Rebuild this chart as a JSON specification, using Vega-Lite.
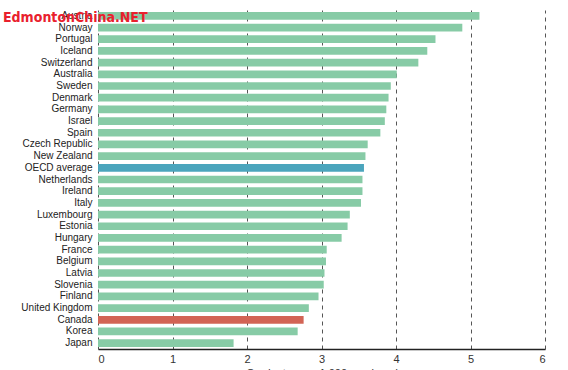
{
  "$schema": "https://vega.github.io/schema/vega-lite/v6.json",
  "width": 447,
  "height": 339,
  "padding": {"left": 3, "top": 10, "right": 15, "bottom": 0},
  "background": "white",
  "title": {
    "text": "EdmontonChina.NET",
    "anchor": "start",
    "frame": "group",
    "offset": -15,
    "dx": -95,
    "font": "DejaVu Sans Condensed",
    "fontSize": 14,
    "fontWeight": "bold",
    "color": "#E9202D"
  },
  "data": {
    "values": [
      {"country": "Austria", "value": 5.12, "group": "country"},
      {"country": "Norway", "value": 4.89, "group": "country"},
      {"country": "Portugal", "value": 4.53, "group": "country"},
      {"country": "Iceland", "value": 4.42, "group": "country"},
      {"country": "Switzerland", "value": 4.30, "group": "country"},
      {"country": "Australia", "value": 4.01, "group": "country"},
      {"country": "Sweden", "value": 3.93, "group": "country"},
      {"country": "Denmark", "value": 3.90, "group": "country"},
      {"country": "Germany", "value": 3.87, "group": "country"},
      {"country": "Israel", "value": 3.85, "group": "country"},
      {"country": "Spain", "value": 3.79, "group": "country"},
      {"country": "Czech Republic", "value": 3.62, "group": "country"},
      {"country": "New Zealand", "value": 3.59, "group": "country"},
      {"country": "OECD average", "value": 3.57, "group": "oecd"},
      {"country": "Netherlands", "value": 3.55, "group": "country"},
      {"country": "Ireland", "value": 3.55, "group": "country"},
      {"country": "Italy", "value": 3.53, "group": "country"},
      {"country": "Luxembourg", "value": 3.38, "group": "country"},
      {"country": "Estonia", "value": 3.35, "group": "country"},
      {"country": "Hungary", "value": 3.27, "group": "country"},
      {"country": "France", "value": 3.07, "group": "country"},
      {"country": "Belgium", "value": 3.06, "group": "country"},
      {"country": "Latvia", "value": 3.04, "group": "country"},
      {"country": "Slovenia", "value": 3.03, "group": "country"},
      {"country": "Finland", "value": 2.96, "group": "country"},
      {"country": "United Kingdom", "value": 2.83, "group": "country"},
      {"country": "Canada", "value": 2.76, "group": "canada"},
      {"country": "Korea", "value": 2.68, "group": "country"},
      {"country": "Japan", "value": 1.82, "group": "country"}
    ]
  },
  "mark": {"type": "bar"},
  "encoding": {
    "y": {
      "field": "country",
      "type": "nominal",
      "sort": null,
      "scale": {"paddingInner": 0.34, "paddingOuter": 0.17},
      "axis": {
        "title": null,
        "domain": false,
        "ticks": false,
        "labelPadding": 6,
        "labelFont": "Liberation Sans",
        "labelFontSize": 10,
        "labelColor": "#222222"
      }
    },
    "x": {
      "field": "value",
      "type": "quantitative",
      "scale": {"domain": [0, 6], "nice": false},
      "axis": {
        "values": [0, 1, 2, 3, 4, 5, 6],
        "title": "Graduates per 1,000 employed",
        "titleFont": "Liberation Sans",
        "titleFontSize": 11,
        "titleFontWeight": "normal",
        "titleColor": "#333333",
        "titlePadding": 3,
        "grid": true,
        "gridDash": [4, 4],
        "gridColor": "#555555",
        "gridWidth": 1,
        "domain": true,
        "domainColor": "#222222",
        "domainWidth": 1.5,
        "ticks": false,
        "labelPadding": 4,
        "labelFont": "Liberation Sans",
        "labelFontSize": 11,
        "labelColor": "#333333"
      }
    },
    "color": {
      "field": "group",
      "type": "nominal",
      "scale": {"domain": ["country", "oecd", "canada"], "range": ["#87CBA6", "#4BA5BD", "#D26455"]},
      "legend": null
    }
  },
  "config": {"view": {"stroke": null}}
}
